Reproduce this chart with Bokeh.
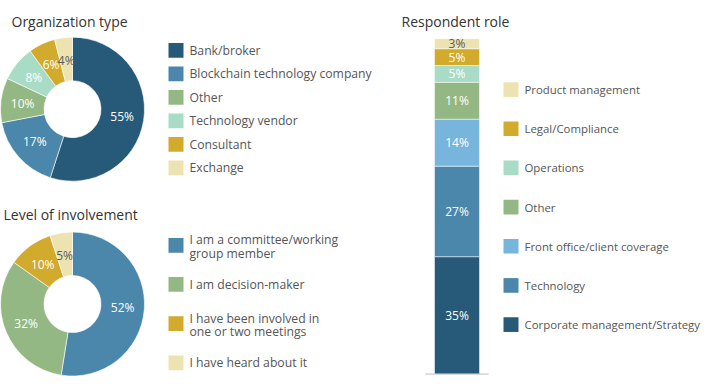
import math
from bokeh.plotting import figure
from bokeh.models import Range1d
from bokeh.embed import file_html
from bokeh.resources import INLINE
from bokeh.core.properties import value

# ---------------- data ----------------
org_labels = ["Bank/broker", "Blockchain technology company", "Other",
              "Technology vendor", "Consultant", "Exchange"]
org_values = [55, 17, 10, 8, 6, 4]

inv_labels = ["I am a committee/working\ngroup member", "I am decision-maker",
              "I have been involved in\none or two meetings", "I have heard about it"]
inv_values = [52, 32, 10, 5]

role_labels = ["Corporate management/Strategy", "Technology", "Front office/client coverage",
               "Other", "Operations", "Legal/Compliance", "Product management"]
role_values = [35, 27, 14, 11, 5, 5, 3]

titles = ["Organization type", "Level of involvement", "Respondent role"]

# ---------------- styles ----------------
NAVY = "#265a78"
BLUE = "#4a87ab"
LBLUE = "#78b5dc"
GREEN = "#94b884"
MINT = "#a9dcc6"
GOLD = "#d2aa2c"
CREAM = "#ede3b1"
org_colors = [NAVY, BLUE, GREEN, MINT, GOLD, CREAM]
inv_colors = [BLUE, GREEN, GOLD, CREAM]
role_colors = [NAVY, BLUE, LBLUE, GREEN, MINT, GOLD, CREAM]

FONT = value("Open Sans")
TXT = "#555555"
TITLE = "#333333"

H = 392


def Y(ry):
    return H - ry


p = figure(width=704, height=376, x_range=Range1d(0, 704), y_range=Range1d(8, 392),
           output_backend="svg", toolbar_location=None, min_border=0,
           x_axis_type=None, y_axis_type=None, outline_line_color=None)
p.grid.visible = False
p.background_fill_color = "white"


def label_color(c):
    return "#5a5a5a" if c == CREAM else "white"


def donut(cx, cy, vals, cols, r_in=28.5, r_out=72):
    total = float(sum(vals))
    cum = 0.0
    xs, ys, txt, tc = [], [], [], []
    for v, c in zip(vals, cols):
        f0 = cum / total
        f1 = (cum + v) / total
        cum += v
        p.annular_wedge(x=cx, y=Y(cy), inner_radius=r_in, outer_radius=r_out,
                        start_angle=math.pi / 2 - 2 * math.pi * f1,
                        end_angle=math.pi / 2 - 2 * math.pi * f0,
                        fill_color=c, line_color="white", line_width=0.6)
        mid = math.pi / 2 - 2 * math.pi * (f0 + f1) / 2
        rm = (r_in + r_out) / 2
        xs.append(cx + rm * math.cos(mid))
        ys.append(Y(cy) + rm * math.sin(mid))
        txt.append(f"{v}%")
        tc.append(label_color(c))
    p.text(x=xs, y=ys, text=txt, text_color=tc, text_align="center",
           text_baseline="middle", text_font=FONT, text_font_size="12px")


def legend(x0, rows, labels, cols, size):
    p.rect(x=[x0 + 7.5] * len(labels), y=[Y(r) for r in rows], width=15, height=15,
           fill_color=cols, line_color=None)
    lx, ly, lt = [], [], []
    for r, lab in zip(rows, labels):
        parts = lab.split("\n")
        offs = [0] if len(parts) == 1 else [-5.5 + 13.5 * j for j in range(len(parts))]
        for part, o in zip(parts, offs):
            lx.append(x0 + 21)
            ly.append(Y(r + o))
            lt.append(part)
    p.text(x=lx, y=ly, text=lt, text_color=TXT, text_align="left",
           text_baseline="middle", text_font=FONT, text_font_size=size)


# titles
p.text(x=[11, 3, 401], y=[Y(21), Y(219), Y(21)], text=titles, text_color=TITLE,
       text_align="left", text_baseline="alphabetic", text_font=FONT,
       text_font_size="14px")

# donuts
donut(72, 111, org_values, org_colors)
donut(72, 310, inv_values, inv_colors)

# legends
legend(168, [51 + 24 * i for i in range(len(org_labels))], org_labels, org_colors, "12.2px")
legend(168, [250 + 40 * i for i in range(len(inv_labels))], inv_labels, inv_colors, "12.2px")
legend(503, [331 - 40 * i for i in range(len(role_labels))], role_labels, role_colors, "11.4px")

# stacked bar on its own percentage scale
bar_bottom, bar_top = Y(381.5), Y(39)
k = (bar_top - bar_bottom) / 100.0
p.extra_y_ranges = {"pct": Range1d(start=(8 - bar_bottom) / k, end=(392 - bar_bottom) / k)}
bottoms, tops, mids = [], [], []
cum = 0
for v in role_values:
    bottoms.append(cum)
    tops.append(cum + v)
    mids.append(cum + v / 2)
    cum += v
bx = 456.5
p.vbar(x=[bx] * len(role_values), width=45, bottom=bottoms, top=tops,
       fill_color=role_colors, line_color="white", line_width=0.5, y_range_name="pct")
p.text(x=[bx] * len(role_values), y=mids, text=[f"{v}%" for v in role_values],
       text_color=[label_color(c) for c in role_colors], text_align="center",
       text_baseline="middle", text_font=FONT, text_font_size="12px", y_range_name="pct")
p.segment(x0=[425], x1=[488], y0=[0], y1=[0], line_color="#bdbdbd", line_width=1,
          y_range_name="pct")

open("out.html", "w").write(file_html(p, INLINE))
